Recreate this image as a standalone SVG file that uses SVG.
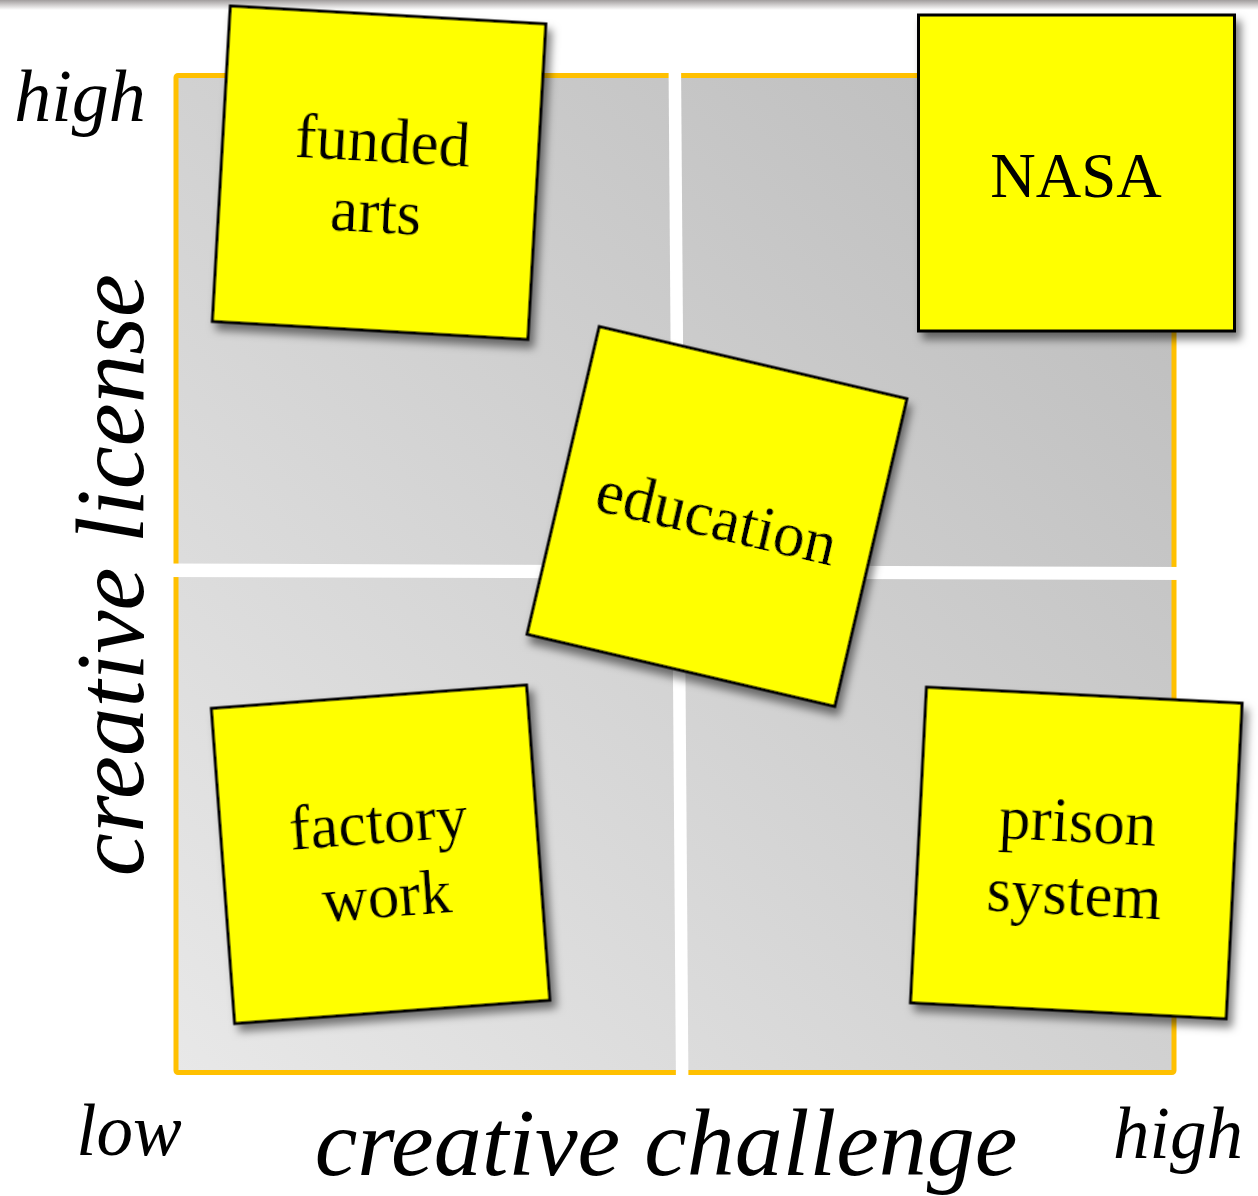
<svg xmlns="http://www.w3.org/2000/svg" width="1258" height="1196" viewBox="0 0 1258 1196">
<style>
  .lbl { font-family: "Liberation Serif", "Times New Roman", serif; font-style: italic; fill: #000; }
  .note rect { fill: #ffff00; stroke: #000; stroke-width: 3; }
  .note text { font-family: "Liberation Serif", "Times New Roman", serif; font-size: 63px; fill: #000; text-anchor: middle; }
</style>
<defs>
  <linearGradient id="bg" x1="0" y1="1" x2="1" y2="0">
    <stop offset="0" stop-color="#e8e8e8"/>
    <stop offset="1" stop-color="#bababa"/>
  </linearGradient>
  <linearGradient id="topshade" x1="0" y1="0" x2="0" y2="1">
    <stop offset="0" stop-color="#a19d9d"/>
    <stop offset="1" stop-color="#ffffff"/>
  </linearGradient>
  <filter id="shadow" x="-10%" y="-10%" width="125%" height="125%">
    <feDropShadow dx="5" dy="7" stdDeviation="4" flood-color="#000" flood-opacity="0.5"/>
  </filter>
</defs>
<rect x="0" y="0" width="1258" height="1196" fill="#fff"/>
<rect x="0" y="0" width="1258" height="10" fill="url(#topshade)"/>

<g id="quadrants">
  <rect x="176" y="75.5" width="998" height="997" rx="2" fill="url(#bg)" stroke="#ffc000" stroke-width="5"/>
  <polygon points="668.5,60 681,60 688.5,1090 676,1090" fill="#fff"/>
  <polygon points="160,563.5 1190,567 1190,580 160,577" fill="#fff"/>
</g>

<g id="axis-labels">
  <text class="lbl" x="80" y="121" font-size="74" text-anchor="middle">high</text>
  <text class="lbl" x="129" y="1155" font-size="73" text-anchor="middle">low</text>
  <text class="lbl" x="1178" y="1158" font-size="73" text-anchor="middle">high</text>
  <text class="lbl" x="666" y="1175" font-size="96" text-anchor="middle">creative challenge</text>
  <text class="lbl" transform="translate(143,575) rotate(-90)" font-size="97" text-anchor="middle">creative license</text>
</g>

<g id="connectors"/>

<g id="note-funded-arts" class="note" transform="translate(379.1,172.7) rotate(3.26)" filter="url(#shadow)">
  <rect x="-158" y="-158" width="316" height="316"/>
  <text x="2" y="-11">funded</text>
  <text x="-1" y="60">arts</text>
</g>

<g id="note-nasa" class="note" filter="url(#shadow)">
  <rect x="918.5" y="15" width="316" height="316"/>
  <text x="1076" y="197">NASA</text>
</g>

<g id="note-factory-work" class="note" transform="translate(380.6,854.3) rotate(-4.23)" filter="url(#shadow)">
  <rect x="-158" y="-158" width="316" height="316"/>
  <text x="0" y="-11">factory</text>
  <text x="3" y="63">work</text>
</g>

<g id="note-prison-system" class="note" transform="translate(1076.3,853) rotate(2.9)" filter="url(#shadow)">
  <rect x="-158" y="-158" width="316" height="316"/>
  <text x="0" y="-11">prison</text>
  <text x="0" y="62">system</text>
</g>

<g id="note-education" class="note" transform="translate(717,516.5) rotate(13.2)" filter="url(#shadow)">
  <rect x="-158" y="-158" width="316" height="316"/>
  <text x="0" y="22">education</text>
</g>
</svg>
